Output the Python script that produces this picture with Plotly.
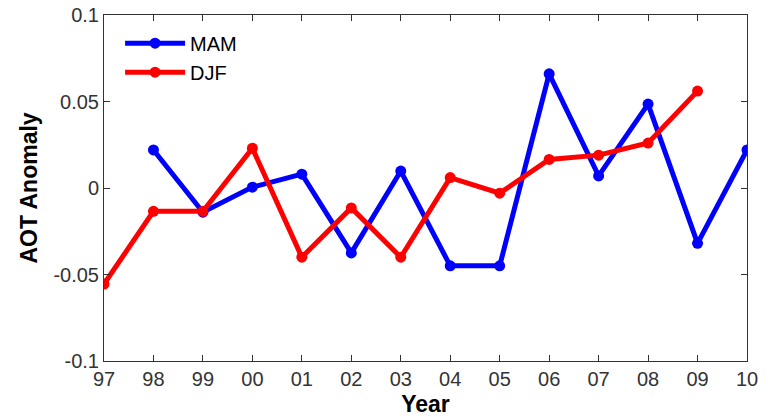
import plotly.graph_objects as go

years = [97, 98, 99, 100, 101, 102, 103, 104, 105, 106, 107, 108, 109, 110]
tick_labels = ["97", "98", "99", "00", "01", "02", "03", "04", "05", "06", "07", "08", "09", "10"]

mam_years = [98, 99, 100, 101, 102, 103, 104, 105, 106, 107, 108, 109, 110]
mam_vals = [0.022, -0.014, 0.0005, 0.008, -0.0375, 0.0098, -0.045, -0.045, 0.066, 0.007, 0.0485, -0.032, 0.022]

djf_years = [97, 98, 99, 100, 101, 102, 103, 104, 105, 106, 107, 108, 109]
djf_vals = [-0.0555, -0.0135, -0.0135, 0.023, -0.040, -0.0115, -0.040, 0.006, -0.003, 0.0165, 0.019, 0.026, 0.056]

y_ticks = [-0.1, -0.05, 0, 0.05, 0.1]
y_labels = ["-0.1", "-0.05", "0", "0.05", "0.1"]

fig = go.Figure()
fig.add_trace(go.Scatter(x=mam_years, y=mam_vals, name="MAM", mode="lines+markers",
                         line=dict(color="#0000ff", width=5),
                         marker=dict(color="#0000ff", size=11)))
fig.add_trace(go.Scatter(x=djf_years, y=djf_vals, name="DJF", mode="lines+markers",
                         line=dict(color="#ff0000", width=5),
                         marker=dict(color="#ff0000", size=11)))

axis_common = dict(showgrid=False, zeroline=False, showline=True, linecolor="#333333",
                   linewidth=1, mirror="ticks", ticks="inside", ticklen=6,
                   tickcolor="#333333", automargin=False,
                   tickfont=dict(family="Liberation Sans, Arial", size=20, color="#333333"))

fig.update_xaxes(range=[97, 110], tickvals=years, ticktext=tick_labels,
                 title=dict(text="<b>Year</b>", font=dict(family="Liberation Sans, Arial", size=23, color="black"), standoff=6),
                 **axis_common)
fig.update_yaxes(range=[-0.1, 0.1], tickvals=y_ticks, ticktext=y_labels,
                 title=dict(text="<b>AOT Anomaly</b>", font=dict(family="Liberation Sans, Arial", size=23, color="black"), standoff=9),
                 **axis_common)

fig.update_layout(
    width=769, height=417,
    margin=dict(l=104, r=22, t=15, b=56),
    paper_bgcolor="white", plot_bgcolor="white",
    legend=dict(x=0.025, y=0.975, xanchor="left", yanchor="top",
                font=dict(family="Liberation Sans, Arial", size=20, color="black"),
                bgcolor="rgba(255,255,255,0)", itemwidth=60, tracegroupgap=0),
)

fig.write_html("out.html")
